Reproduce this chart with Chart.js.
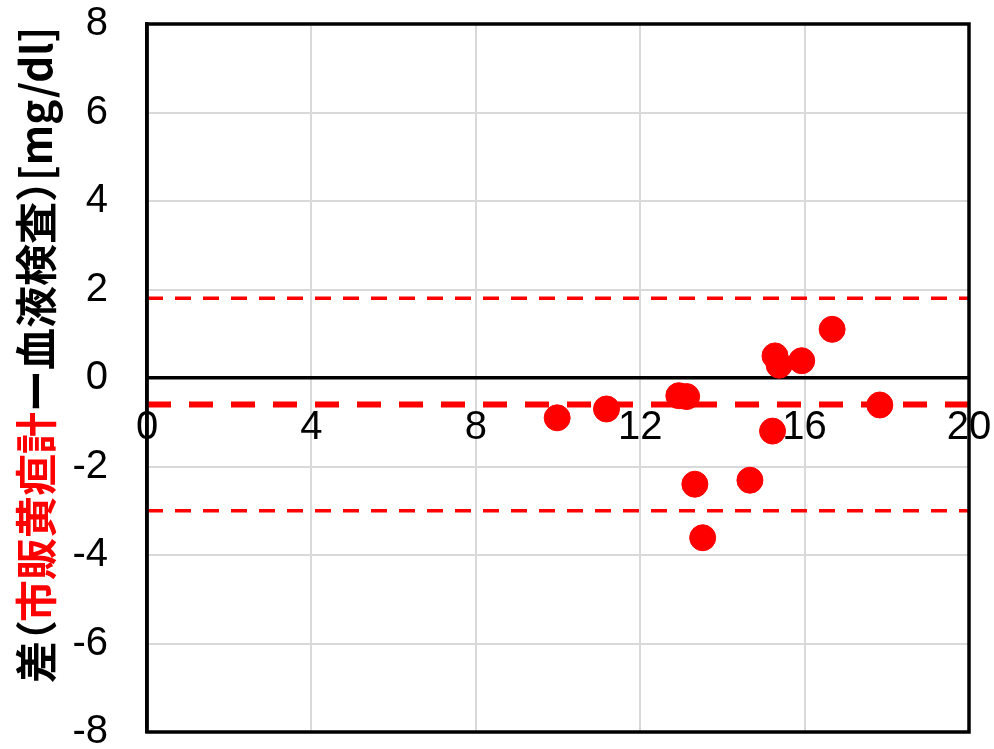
<!DOCTYPE html>
<html>
<head>
<meta charset="utf-8">
<script src="https://cdn.jsdelivr.net/npm/chart.js@4/dist/chart.umd.min.js"></script>
<style>
  html, body { margin: 0; padding: 0; background: #ffffff; }
  canvas { display: block; }
</style>
</head>
<body>
<canvas id="chart" width="994" height="749"></canvas>
<script>
// Bland-Altman style plot: difference (meter - blood test) vs. measured value
const measuredValue = [9.98, 11.18, 12.94, 13.13, 13.33, 13.52, 14.67, 15.22, 15.28, 15.38, 15.93, 16.67, 17.83];
const difference    = [-0.90, -0.70, -0.40, -0.42, -2.40, -3.61, -2.31, -1.20, 0.50, 0.29, 0.39, 1.10, -0.61];

const meanDifference = -0.6;
const upperLimit = 1.8;
const lowerLimit = -3.0;

const xRange = [0, 20];
const yRange = [-8, 8];
const xStep = 4;
const yStep = 2;

// Y axis title: segments with their own colours
const titleParts = [
  { text: '差', color: '#000000' },
  { text: '（', color: '#000000', shift: -0.5, advance: 0.45 },
  { text: '市販黄疸計', color: '#ff0000' },
  { text: 'ー血液検査', color: '#000000' },
  { text: '）', color: '#000000', shift: 0, advance: 0.5 },
  { text: '[mg/dl]', color: '#000000' }
];

const RED = '#ff0000';
const GRID = '#d9d9d9';
const TICK_FONT = { family: '"Liberation Sans", Arial, sans-serif', size: 40, lineHeight: 1 };

const points = measuredValue.map((x, i) => ({ x: x, y: difference[i] }));
const hLine = v => xRange.map(x => ({ x: x, y: v }));

const frameAndTitle = {
  id: 'frameAndTitle',
  afterDatasetsDraw(chart) {
    const { ctx, chartArea: a } = chart;
    ctx.save();
    ctx.strokeStyle = '#000000';
    ctx.lineWidth = 3.5;
    ctx.strokeRect(a.left, a.top, a.right - a.left, a.bottom - a.top);
    ctx.restore();
  },
  afterDraw(chart) {
    const { ctx } = chart;
    const size = 42;
    ctx.save();
    ctx.translate(36, 683);
    ctx.rotate(-Math.PI / 2);
    ctx.font = 'bold ' + size + 'px "Noto Sans CJK JP", sans-serif';
    ctx.textBaseline = 'middle';
    ctx.textAlign = 'left';
    let pos = 0;
    for (const part of titleParts) {
      ctx.fillStyle = part.color;
      if (part.advance !== undefined) {
        ctx.fillText(part.text, pos + part.shift * size, 0);
        pos += part.advance * size;
      } else {
        ctx.fillText(part.text, pos, 0);
        pos += ctx.measureText(part.text).width;
      }
    }
    ctx.restore();
  }
};

new Chart(document.getElementById('chart'), {
  type: 'scatter',
  data: {
    datasets: [
      {
        label: '差',
        data: points,
        backgroundColor: RED,
        borderColor: RED,
        borderWidth: 1,
        pointRadius: 13,
        pointHoverRadius: 13,
        order: 0
      },
      {
        label: '平均',
        type: 'line',
        data: hLine(meanDifference),
        borderColor: RED,
        borderWidth: 6,
        borderDash: [24, 18],
        pointRadius: 0,
        fill: false,
        order: 1
      },
      {
        label: '上限',
        type: 'line',
        data: hLine(upperLimit),
        borderColor: RED,
        borderWidth: 3.5,
        borderDash: [16, 12],
        pointRadius: 0,
        fill: false,
        order: 1
      },
      {
        label: '下限',
        type: 'line',
        data: hLine(lowerLimit),
        borderColor: RED,
        borderWidth: 3.5,
        borderDash: [16, 12],
        pointRadius: 0,
        fill: false,
        order: 1
      }
    ]
  },
  options: {
    responsive: false,
    animation: false,
    layout: { padding: { top: 24, bottom: 17, right: 25, left: 0 } },
    plugins: { legend: { display: false }, tooltip: { enabled: false } },
    scales: {
      x: {
        type: 'linear',
        position: { y: 0 },
        min: xRange[0],
        max: xRange[1],
        ticks: { stepSize: xStep, color: '#000000', font: TICK_FONT, padding: 30, maxRotation: 0 },
        grid: { color: GRID, lineWidth: 2, drawTicks: false },
        border: { color: '#000000', width: 3.5 },
        afterFit(scale) { scale.paddingLeft = 0; scale.paddingRight = 0; }
      },
      y: {
        type: 'linear',
        position: 'left',
        min: yRange[0],
        max: yRange[1],
        ticks: { stepSize: yStep, color: '#000000', font: TICK_FONT, padding: 39 },
        grid: { color: GRID, lineWidth: 2, drawTicks: false },
        border: { color: '#000000', width: 3.5 },
        afterFit(scale) { scale.width = 147; scale.paddingTop = 0; scale.paddingBottom = 0; }
      }
    }
  },
  plugins: [frameAndTitle]
});
</script>
</body>
</html>
